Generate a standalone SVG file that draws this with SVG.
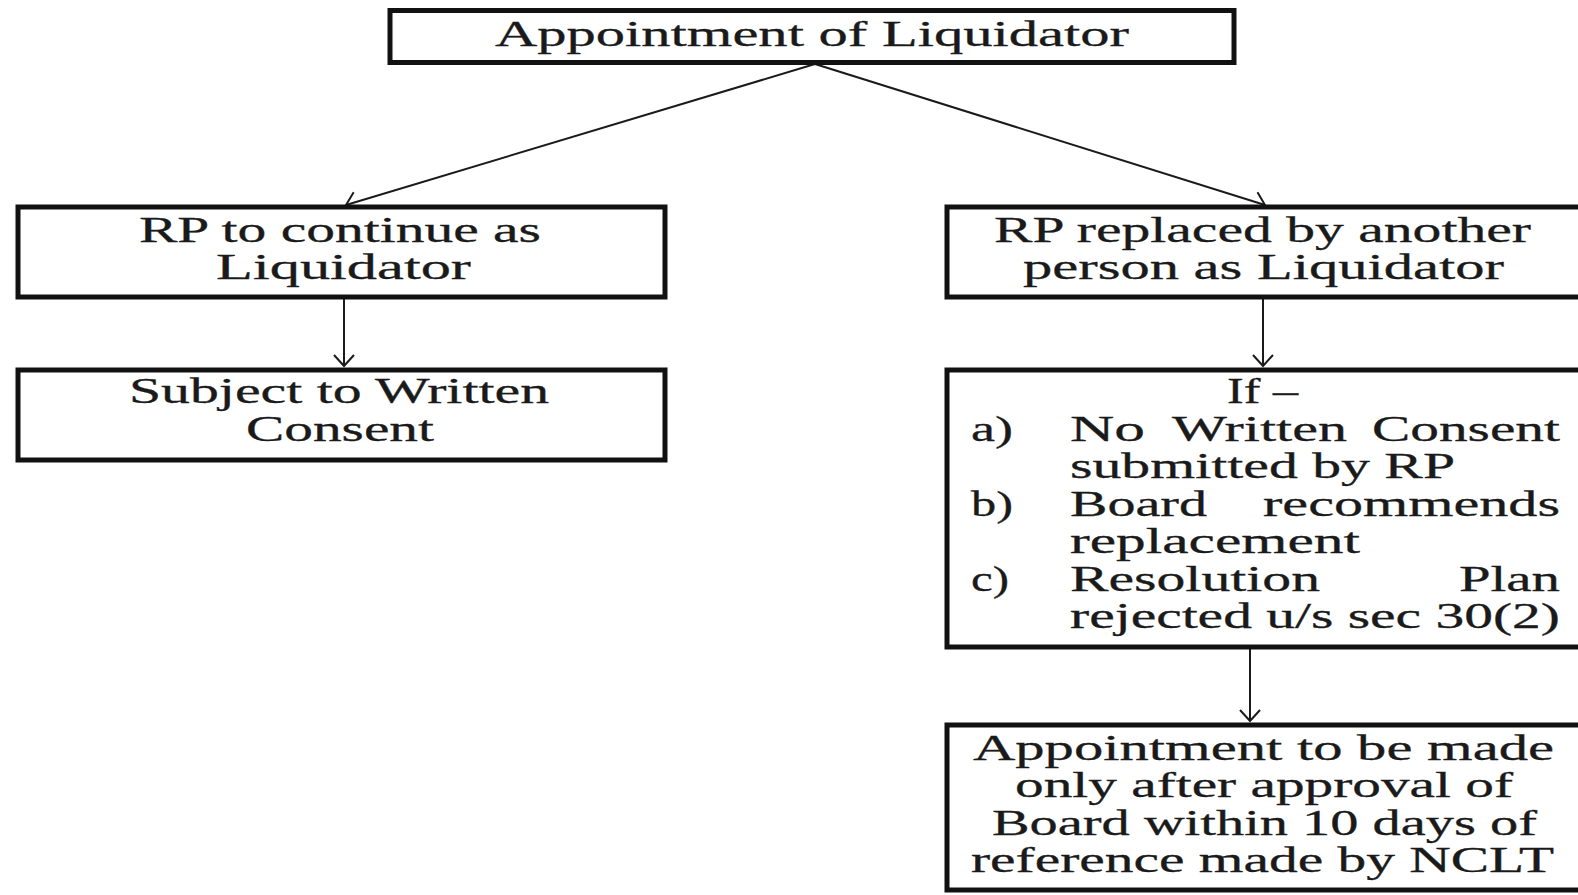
<svg xmlns="http://www.w3.org/2000/svg" width="1578" height="895" viewBox="0 0 1578 895">
  <style>
    .box { fill: #ffffff; stroke: #111111; stroke-width: 5; }
    .lbl { font-family: "Liberation Serif", "Times New Roman", serif; font-size: 36px; fill: #1a1a1a; stroke: #1a1a1a; stroke-width: 0.3; }
    .conn { fill: none; stroke: #1a1a1a; stroke-width: 2; }
  </style>
  <defs>
    <marker id="arrow" markerUnits="userSpaceOnUse" markerWidth="24" markerHeight="24" refX="13" refY="12" orient="auto">
      <path d="M2,2 L13,12 L2,22" fill="none" stroke="#1a1a1a" stroke-width="2"/>
    </marker>
  </defs>
  <rect width="1578" height="895" fill="#ffffff"/>

  <g id="connectors">
    <path class="conn" d="M815,64 L346,205" marker-end="url(#arrow)"/>
    <path class="conn" d="M815,64 L1265,205" marker-end="url(#arrow)"/>
    <path class="conn" d="M344,299 L344,366" marker-end="url(#arrow)"/>
    <path class="conn" d="M1263,299 L1263,366" marker-end="url(#arrow)"/>
    <path class="conn" d="M1250,649 L1250,721" marker-end="url(#arrow)"/>
  </g>

  <g id="appointment">
    <rect class="box" x="390" y="10.5" width="844" height="52"/>
    <text class="lbl" x="495" y="46" textLength="634" lengthAdjust="spacingAndGlyphs">Appointment of Liquidator</text>
  </g>

  <g id="rp-continue">
    <rect class="box" x="18" y="207" width="647" height="90"/>
    <text class="lbl" x="139" y="242" textLength="402" lengthAdjust="spacingAndGlyphs">RP to continue as</text>
    <text class="lbl" x="216" y="279" textLength="255" lengthAdjust="spacingAndGlyphs">Liquidator</text>
  </g>

  <g id="written-consent">
    <rect class="box" x="18" y="370" width="647" height="90"/>
    <text class="lbl" x="129" y="403" textLength="420" lengthAdjust="spacingAndGlyphs">Subject to Written</text>
    <text class="lbl" x="246" y="441" textLength="188" lengthAdjust="spacingAndGlyphs">Consent</text>
  </g>

  <g id="rp-replaced">
    <rect class="box" x="947" y="207" width="640" height="90"/>
    <text class="lbl" x="994" y="242" textLength="537" lengthAdjust="spacingAndGlyphs">RP replaced by another</text>
    <text class="lbl" x="1023" y="279" textLength="481" lengthAdjust="spacingAndGlyphs">person as Liquidator</text>
  </g>

  <g id="conditions">
    <rect class="box" x="947" y="370" width="640" height="277"/>
    <text class="lbl" x="1227" y="403" textLength="71" lengthAdjust="spacingAndGlyphs">If –</text>
    <text class="lbl" x="971" y="441" textLength="42" lengthAdjust="spacingAndGlyphs">a)</text>
    <text class="lbl" x="1070" y="441" textLength="75" lengthAdjust="spacingAndGlyphs">No</text>
    <text class="lbl" x="1172" y="441" textLength="175" lengthAdjust="spacingAndGlyphs">Written</text>
    <text class="lbl" x="1372" y="441" textLength="188" lengthAdjust="spacingAndGlyphs">Consent</text>
    <text class="lbl" x="1070" y="478" textLength="385" lengthAdjust="spacingAndGlyphs">submitted by RP</text>
    <text class="lbl" x="971" y="516" textLength="42" lengthAdjust="spacingAndGlyphs">b)</text>
    <text class="lbl" x="1070" y="516" textLength="137" lengthAdjust="spacingAndGlyphs">Board</text>
    <text class="lbl" x="1263" y="516" textLength="297" lengthAdjust="spacingAndGlyphs">recommends</text>
    <text class="lbl" x="1070" y="553" textLength="290" lengthAdjust="spacingAndGlyphs">replacement</text>
    <text class="lbl" x="971" y="591" textLength="38" lengthAdjust="spacingAndGlyphs">c)</text>
    <text class="lbl" x="1070" y="591" textLength="250" lengthAdjust="spacingAndGlyphs">Resolution</text>
    <text class="lbl" x="1459" y="591" textLength="101" lengthAdjust="spacingAndGlyphs">Plan</text>
    <text class="lbl" x="1070" y="628" textLength="490" lengthAdjust="spacingAndGlyphs">rejected u/s sec 30(2)</text>
  </g>

  <g id="board-approval">
    <rect class="box" x="947" y="725" width="640" height="165"/>
    <text class="lbl" x="973" y="760" textLength="581" lengthAdjust="spacingAndGlyphs">Appointment to be made</text>
    <text class="lbl" x="1015" y="797" textLength="498" lengthAdjust="spacingAndGlyphs">only after approval of</text>
    <text class="lbl" x="992" y="835" textLength="545" lengthAdjust="spacingAndGlyphs">Board within 10 days of</text>
    <text class="lbl" x="971" y="872" textLength="583" lengthAdjust="spacingAndGlyphs">reference made by NCLT</text>
  </g>
</svg>
